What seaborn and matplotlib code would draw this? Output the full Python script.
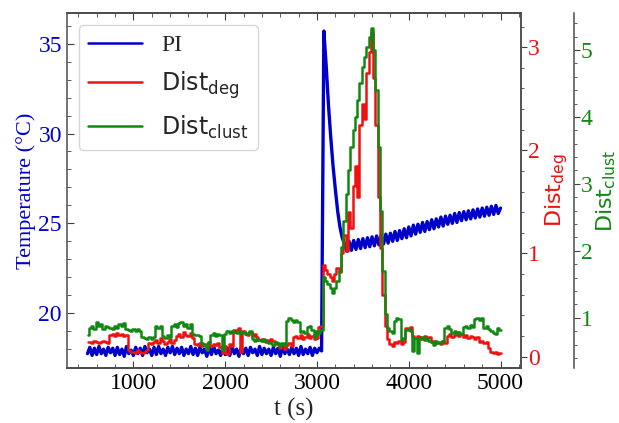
import numpy as np
import matplotlib
matplotlib.use("Agg")
import matplotlib.pyplot as plt
import seaborn as sns
from matplotlib.ticker import MultipleLocator

# time grid of the traces (s), one sample every 25 s
t = np.arange(500, 5001, 25)

# PI temperature (degC), one row = 250 s
pi_temp = [
    17.75, 18.1, 17.65, 18.05, 17.7, 18.15, 17.75, 18.0, 17.65, 18.1,
    17.8, 18.05, 17.65, 18.1, 17.7, 18.0, 17.6, 18.15, 17.75, 17.95,
    17.65, 18.1, 17.75, 18.05, 17.65, 18.15, 17.8, 18.0, 17.65, 18.1,
    17.7, 18.15, 17.75, 18.0, 17.65, 18.1, 17.8, 18.15, 17.7, 18.05,
    17.75, 18.1, 17.65, 18.0, 17.75, 18.15, 17.7, 18.05, 17.65, 18.1,
    17.8, 18.0, 17.6, 18.1, 17.7, 18.15, 17.75, 17.95, 17.65, 18.1,
    17.7, 18.05, 17.65, 18.15, 17.75, 18.0, 17.6, 18.1, 17.75, 18.05,
    17.65, 18.1, 17.8, 18.0, 17.65, 18.15, 17.7, 18.05, 17.75, 18.0,
    17.65, 18.1, 17.75, 18.05, 17.6, 18.15, 17.75, 18.0, 17.7, 18.1,
    17.75, 18.05, 17.65, 18.15, 17.7, 18.0, 17.75, 18.1, 17.65, 18.05,
    17.8, 18.05, 17.9, 35.7, 33.8, 31.6, 29.8, 28.2, 26.9, 25.7,
    24.8, 24.2, 23.85, 23.45, 24.0, 23.5, 24.05, 23.55, 24.1, 23.6,
    24.15, 23.65, 24.2, 23.7, 24.25, 23.75, 24.3, 23.8, 24.35, 23.85,
    24.4, 23.9, 24.45, 24.0, 24.55, 24.05, 24.6, 24.15, 24.7, 24.2,
    24.8, 24.3, 24.9, 24.4, 24.95, 24.5, 25.05, 24.55, 25.1, 24.65,
    25.2, 24.7, 25.25, 24.8, 25.35, 24.85, 25.4, 24.95, 25.45, 25.0,
    25.55, 25.05, 25.6, 25.15, 25.65, 25.2, 25.7, 25.25, 25.75, 25.3,
    25.8, 25.35, 25.85, 25.4, 25.9, 25.45, 25.95, 25.5, 26.0, 25.55,
    25.85,
]

# degree distance, red trace
dist_deg = [
    0.14, 0.14, 0.13, 0.15, 0.14, 0.13, 0.14, 0.15, 0.14, 0.13,
    0.21, 0.22, 0.2, 0.23, 0.21, 0.22, 0.2, 0.21, 0.06, 0.05,
    0.05, 0.04, 0.06, 0.05, 0.04, 0.05, 0.06, 0.13, 0.12, 0.14,
    0.16, 0.13, 0.18, 0.15, 0.12, 0.14, 0.17, 0.13, 0.16, 0.2,
    0.22, 0.19, 0.24, 0.21, 0.2, 0.23, 0.18, 0.12, 0.11, 0.13,
    0.1, 0.12, 0.11, 0.14, 0.1, 0.12, 0.11, 0.13, 0.09, 0.04,
    0.1, 0.03, 0.12, 0.1, 0.26, 0.24, 0.28, 0.05, 0.25, 0.22,
    0.21, 0.24, 0.2, 0.22, 0.19, 0.16, 0.17, 0.15, 0.16, 0.14,
    0.17, 0.15, 0.13, 0.12, 0.08, 0.12, 0.07, 0.11, 0.13, 0.1,
    0.19, 0.2, 0.18, 0.21, 0.17, 0.19, 0.22, 0.18, 0.2, 0.17,
    0.18, 0.29, 0.3, 0.89, 0.84, 0.8, 0.77, 0.73, 0.8, 0.86,
    0.82, 1.0, 1.18, 1.02, 1.4, 1.25, 1.65, 1.85, 1.55, 2.25,
    2.45, 2.3, 2.75, 2.95, 3.15, 2.7, 2.25, 1.55, 1.05, 0.6,
    0.3, 0.17, 0.12, 0.1, 0.14, 0.13, 0.15, 0.12, 0.14, 0.28,
    0.27, 0.29, 0.2, 0.18, 0.2, 0.19, 0.17, 0.2, 0.18, 0.19,
    0.14, 0.15, 0.13, 0.14, 0.12, 0.15, 0.13, 0.2, 0.22, 0.19,
    0.21, 0.24, 0.2, 0.22, 0.19, 0.21, 0.18, 0.2, 0.19, 0.17,
    0.19, 0.14, 0.15, 0.13, 0.14, 0.08, 0.05, 0.04, 0.05, 0.03,
    0.04,
]

# clustering distance, green trace
dist_clust = [
    0.75, 0.85, 0.88, 0.83, 0.93, 0.87, 0.9, 0.84, 0.88, 0.86,
    0.85, 0.83, 0.87, 0.85, 0.9, 0.88, 0.92, 0.84, 0.82, 0.8,
    0.83, 0.8, 0.84, 0.81, 0.72, 0.7, 0.68, 0.72, 0.69, 0.71,
    0.87, 0.85, 0.88, 0.73, 0.7, 0.74, 0.71, 0.88, 0.9, 0.86,
    0.92, 0.94, 0.88, 0.9, 0.85, 0.9, 0.76, 0.74, 0.75, 0.73,
    0.63, 0.6, 0.52, 0.64, 0.75, 0.77, 0.73, 0.76, 0.74, 0.52,
    0.76, 0.8, 0.78, 0.81, 0.79, 0.77, 0.8, 0.78, 0.79, 0.76,
    0.78, 0.8, 0.68, 0.66, 0.69, 0.67, 0.65, 0.68, 0.64, 0.62,
    0.63, 0.6, 0.64, 0.62, 0.58, 0.63, 0.6, 0.95, 1.0, 0.97,
    0.94, 0.96, 0.93, 0.79, 0.8, 0.78, 0.86, 0.88, 0.82, 0.72,
    0.8, 0.78, 0.82, 1.61, 1.55, 1.5, 1.45, 1.37, 1.45, 1.55,
    1.7, 2.05, 2.45, 2.85, 3.2, 3.55, 3.8, 4.0, 4.25, 4.5,
    4.75, 4.9, 5.05, 5.2, 5.33, 5.0, 4.4, 3.55, 2.6, 1.7,
    1.05, 0.85, 0.8, 0.78, 0.95, 1.0, 0.98, 0.67, 0.7, 0.82,
    0.84, 0.8, 0.5, 0.7, 0.48, 0.68, 0.72, 0.67, 0.7, 0.66,
    0.64, 0.6, 0.65, 0.62, 0.63, 0.66, 0.85, 0.87, 0.83, 0.78,
    0.8, 0.77, 0.79, 0.76, 0.86, 0.88, 0.85, 0.89, 0.86, 0.98,
    1.0, 0.97, 1.0, 0.85, 0.87, 0.84, 0.8, 0.78, 0.76, 0.85,
    0.82,
]

sns.set_style("ticks")
plt.rcParams["font.family"] = "serif"
plt.rcParams["font.serif"] = ["Liberation Serif", "DejaVu Serif"]
plt.rcParams["mathtext.fontset"] = "dejavusans"

BLUE, RED, GREEN = "#0000cc", "#ee1111", "#118811"
FS = 17

fig = plt.figure(figsize=(6.19, 4.23), dpi=100)
ax = fig.add_axes([0.108, 0.130, 0.734, 0.839])
ax2 = ax.twinx()
ax3 = ax.twinx()
ax3.spines["right"].set_position(("axes", 1.116))

sns.lineplot(x=t, y=pi_temp, ax=ax, color=BLUE, lw=2.4, estimator=None, sort=False)
sns.lineplot(x=t, y=dist_deg, ax=ax2, color=RED, lw=1.8, estimator=None,
             sort=False, drawstyle="steps-mid")
sns.lineplot(x=t, y=dist_clust, ax=ax3, color=GREEN, lw=1.8, estimator=None,
             sort=False, drawstyle="steps-mid")

ax.set_xlim(275, 5225)
ax.set_ylim(16.95, 36.7)
ax2.set_ylim(-0.11, 3.33)
ax3.set_ylim(0.25, 5.55)

ax.xaxis.set_major_locator(MultipleLocator(1000))
ax.xaxis.set_minor_locator(MultipleLocator(200))
ax.yaxis.set_major_locator(MultipleLocator(5))
ax.yaxis.set_minor_locator(MultipleLocator(1))
ax2.yaxis.set_major_locator(MultipleLocator(1))
ax2.yaxis.set_minor_locator(MultipleLocator(0.2))
ax3.yaxis.set_major_locator(MultipleLocator(1))
ax3.yaxis.set_minor_locator(MultipleLocator(0.2))

ax.tick_params(which="both", direction="in", top=True, right=False,
               labelsize=FS, colors="0.25")
ax.tick_params(axis="y", labelcolor=BLUE)
ax.tick_params(axis="x", labelcolor="black")
ax.tick_params(which="major", length=5)
ax.tick_params(which="minor", length=3)
for a, c in [(ax2, RED), (ax3, GREEN)]:
    a.tick_params(which="both", direction="out", labelsize=FS, colors="0.25", pad=1)
    a.tick_params(axis="y", labelcolor=c)
    a.tick_params(which="major", length=4)
    a.tick_params(which="minor", length=2.5)

for a in (ax, ax2, ax3):
    for s in a.spines.values():
        s.set_color("0.3")
        s.set_linewidth(1.1)
ax3.spines["left"].set_visible(False)
ax2.spines["left"].set_visible(False)

ax.set_xlabel("t (s)", fontsize=18, labelpad=3)
ax.set_ylabel("Temperature (°C)", fontsize=16, color=BLUE, labelpad=2)
ax2.set_ylabel(r"$\mathrm{Dist}_{\mathrm{deg}}$", fontsize=16, color=RED, labelpad=2)
ax3.set_ylabel(r"$\mathrm{Dist}_{\mathrm{clust}}$", fontsize=16, color=GREEN, labelpad=1)

handles = [ax.lines[0], ax2.lines[0], ax3.lines[0]]
labels = ["PI", r"$\mathrm{Dist}_{\mathrm{deg}}$", r"$\mathrm{Dist}_{\mathrm{clust}}$"]
ax.legend(handles, labels, loc="upper left", fontsize=17, frameon=True,
          fancybox=True, edgecolor="0.8", handlelength=2.3, labelspacing=0.55)
for h in ax.get_legend().legend_handles:
    h.set_linewidth(1.8)

fig.savefig("out.png", dpi=100)
